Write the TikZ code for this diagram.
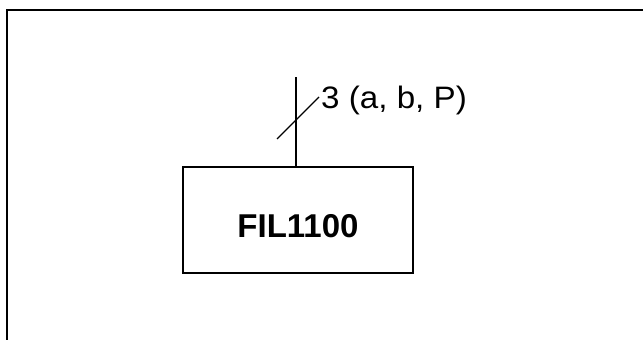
\documentclass[tikz,border=0pt]{standalone}
\usepackage{fontspec}
\setmainfont{Liberation Sans}
\usepackage{tikz}

\begin{document}
\begin{tikzpicture}[x=1pt, y=-1pt]
    \useasboundingbox (0, 0) rectangle (643, 340);
    \draw[line width=2pt] (6.5, 340) -- (6.5, 10) -- (643, 10);
    \node[draw, line width=1.5pt, minimum width=230pt, minimum height=106pt,
      text height=34pt, text depth=0pt, inner sep=0pt,
      font=\fontsize{33}{38}\selectfont\bfseries] (fil) at (298, 220) {FIL1100};
    \coordinate (busend) at (296, 77);
    \draw[line width=1.4pt] (fil.north -| busend) -- (busend);
    \draw[line width=1.4pt] (277, 139) -- (319, 97);
    \node[anchor=base west, inner sep=0pt, font=\fontsize{31}{36}\selectfont] (buslabel) at (321, 108) {\scalebox{1.07}[1]{3 (a, b, P)}};
  \end{tikzpicture}
\end{document}
